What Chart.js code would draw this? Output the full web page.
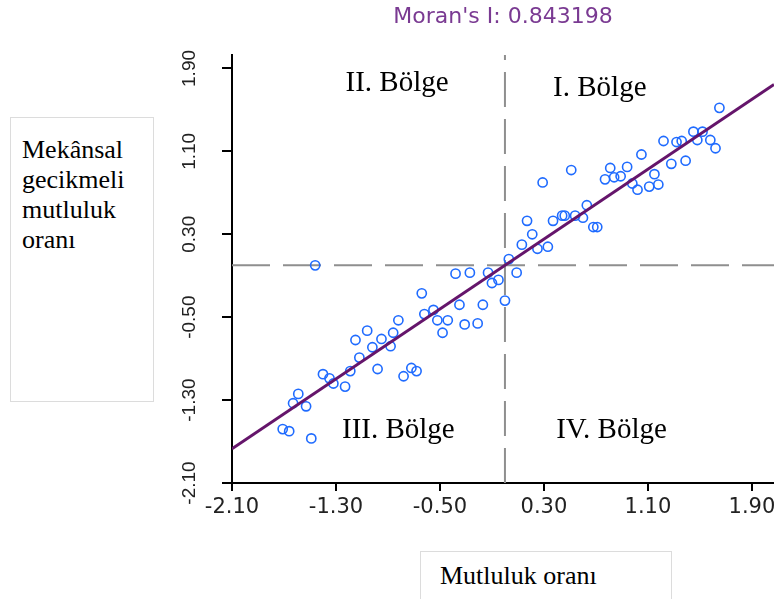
<!DOCTYPE html>
<html lang="tr">
<head>
<meta charset="utf-8">
<title>Moran's I</title>
<script src="https://cdn.jsdelivr.net/npm/chart.js@4.4.1/dist/chart.umd.min.js"></script>
<style>
  body { margin: 0; background: #fff; }
  #wrap { position: relative; width: 774px; height: 599px; overflow: hidden; }
  #moranChart { display: block; }
  .box {
    position: absolute;
    box-sizing: border-box;
    border: 1px solid #dcdcdc;
    background: #fff;
    font-family: "Liberation Serif", "Times New Roman", serif;
    font-size: 26px;
    color: #000;
  }
  #ylab { left: 10px; top: 117px; width: 144px; height: 285px; padding: 17px 0 0 11px; line-height: 30px; }
  #xlab { left: 420px; top: 551px; width: 252px; height: 58px; padding: 9px 0 0 19px; line-height: 29px; }
</style>
</head>
<body>
<div id="wrap">
  <canvas id="moranChart" width="774" height="599"></canvas>
  <div class="box" id="ylab">Mekânsal<br>gecikmeli<br>mutluluk<br>oranı</div>
  <div class="box" id="xlab">Mutluluk oranı</div>
</div>
<script>
// Moran scatter plot
const moransI = 0.843198;

// tick values on both axes
const tickVals = [-2.10, -1.30, -0.50, 0.30, 1.10, 1.90];

// standardized happiness rate (x) and its spatial lag (y)
const xVals = [-1.46, -1.71, -1.66, -1.49, -1.59, -1.63, -1.53, -1.40, -1.35, -1.32,
  -1.23, -1.19, -1.15, -1.06, -1.12, -1.02, -0.95, -0.88, -0.86, -0.82,
  -0.98, -0.78, -0.72, -0.68, -0.64, -0.62, -0.55, -0.52, -0.44, -0.48,
  -0.35, -0.31, -0.21, -0.17, -0.38, -0.27, -0.13, -0.10, -0.05, 0.00,
  0.03, 0.09, 0.13, 0.21, 0.17, 0.25, 0.33, 0.29, 0.37, 0.44,
  0.46, 0.54, 0.60, 0.63, 0.68, 0.71, 0.51, 0.77, 0.81, 0.84,
  0.89, 0.94, 0.98, 1.02, 1.05, 1.11, 1.15, 1.18, 1.22, 1.28,
  1.32, 1.36, 1.39, 1.45, 1.52, 1.48, 1.58, 1.62, 1.65];
const yVals = [0.00, -1.58, -1.60, -1.67, -1.24, -1.33, -1.36, -1.05, -1.09, -1.14,
  -1.17, -1.02, -0.72, -0.63, -0.89, -0.79, -0.71, -0.78, -0.65, -0.53,
  -1.00, -1.07, -0.99, -1.02, -0.27, -0.47, -0.43, -0.53, -0.53, -0.65,
  -0.38, -0.57, -0.56, -0.38, -0.08, -0.07, -0.07, -0.17, -0.14, -0.34,
  0.06, -0.07, 0.20, 0.30, 0.43, 0.16, 0.18, 0.80, 0.43, 0.48,
  0.48, 0.48, 0.46, 0.58, 0.37, 0.37, 0.92, 0.83, 0.94, 0.85,
  0.86, 0.95, 0.79, 0.73, 1.07, 0.76, 0.88, 0.78, 1.20, 0.98,
  1.19, 1.20, 1.01, 1.29, 1.29, 1.21, 1.21, 1.13, 1.52];

// quadrant names
const quadLabels = ['I. Bölge', 'II. Bölge', 'III. Bölge', 'IV. Bölge'];

const xMin = -2.10, xMax = 2.07;
const yMin = -2.10, yMax = 2.03;

const points = xVals.map((x, i) => ({ x: x, y: yVals[i] }));
const fitLine = [xMin, xMax].map(x => ({ x: x, y: moransI * x }));

// draws the rotated y tick labels and the quadrant names
const extraText = {
  id: 'extraText',
  afterDraw(chart) {
    const ctx = chart.ctx;
    const xs = chart.scales.x, ys = chart.scales.y;
    ctx.save();
    ctx.fillStyle = '#222';
    ctx.font = '19px "Liberation Sans", Arial, sans-serif';
    ctx.textAlign = 'center';
    ctx.textBaseline = 'middle';
    tickVals.forEach(v => {
      ctx.save();
      ctx.translate(ys.right - 42, ys.getPixelForValue(v));
      ctx.rotate(-Math.PI / 2);
      ctx.fillText(v.toFixed(2), 0, 0);
      ctx.restore();
    });
    // quadrant names, placed in data units
    const spots = [[0.73, 1.63], [-0.83, 1.68], [-0.82, -1.67], [0.82, -1.67]];
    ctx.fillStyle = '#000';
    ctx.font = '29px "Liberation Serif", "Times New Roman", serif';
    ctx.textBaseline = 'alphabetic';
    quadLabels.forEach((t, i) => {
      ctx.fillText(t, xs.getPixelForValue(spots[i][0]), ys.getPixelForValue(spots[i][1]));
    });
    ctx.restore();
  }
};

const setTicks = scale => { scale.ticks = tickVals.map(v => ({ value: v })); };

new Chart(document.getElementById('moranChart'), {
  type: 'scatter',
  data: {
    datasets: [
      {
        type: 'line',
        data: fitLine,
        borderColor: '#65156b',
        borderWidth: 3,
        pointRadius: 0,
        fill: false
      },
      {
        data: points,
        pointStyle: 'circle',
        pointRadius: 4.6,
        pointBorderWidth: 1.6,
        pointBorderColor: '#1f6bff',
        pointBackgroundColor: 'rgba(255,255,255,0)'
      },
      {
        type: 'line',
        data: [{ x: xMin, y: 0 }, { x: xMax, y: 0 }],
        borderColor: '#8f8f8f',
        borderWidth: 2,
        borderDash: [38, 13],
        pointRadius: 0
      },
      {
        type: 'line',
        data: [{ x: 0, y: yMin }, { x: 0, y: yMax }],
        borderColor: '#8f8f8f',
        borderWidth: 2,
        borderDash: [35, 12],
        pointRadius: 0
      }
    ]
  },
  options: {
    responsive: false,
    animation: false,
    layout: { padding: 0, autoPadding: false },
    plugins: {
      legend: { display: false },
      tooltip: { enabled: false },
      title: {
        display: true,
        text: "Moran's I: 0.843198",
        color: '#7a3a92',
        fullSize: false,
        font: { family: '"DejaVu Sans", sans-serif', size: 22, weight: 'normal' },
        padding: { top: 4, bottom: 24.6 }
      }
    },
    scales: {
      x: {
        type: 'linear',
        min: xMin,
        max: xMax,
        afterBuildTicks: setTicks,
        afterFit: s => { s.paddingLeft = 0; s.paddingRight = 0; s.height = 116; },
        grid: { drawOnChartArea: false, drawTicks: true, tickLength: 8, color: '#000', lineWidth: 2 },
        border: { color: '#000', width: 2 },
        ticks: {
          color: '#222',
          padding: 4,
          maxRotation: 0,
          autoSkip: false,
          font: { family: '"DejaVu Sans", sans-serif', size: 21 },
          callback: v => Number(v).toFixed(2)
        }
      },
      y: {
        type: 'linear',
        min: yMin,
        max: yMax,
        afterBuildTicks: setTicks,
        afterFit: s => { s.width = 232; },
        grid: { drawOnChartArea: false, drawTicks: true, tickLength: 10, color: '#000', lineWidth: 2 },
        border: { color: '#000', width: 2 },
        ticks: { display: false }
      }
    }
  },
  plugins: [extraText]
});
</script>
</body>
</html>
